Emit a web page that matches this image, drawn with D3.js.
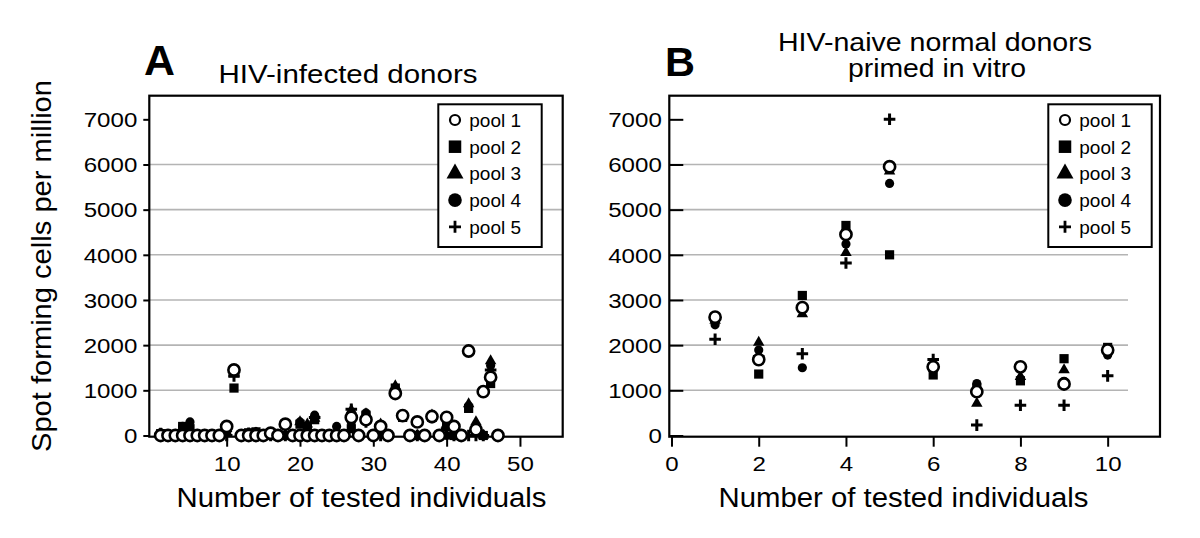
<!DOCTYPE html>
<html><head><meta charset="utf-8">
<script src="https://cdn.jsdelivr.net/npm/d3@7"></script>
<style>
body{margin:0;background:#fff}
svg{display:block}
text{font-family:"Liberation Sans",Arial,Helvetica,sans-serif;fill:#000}
</style>
</head><body>
<svg id="c" width="1200" height="538"></svg>
<script>
// ---------------- data ----------------
const yTicks = [0,1000,2000,3000,4000,5000,6000,7000];
const gridVals = [1000,2000,3000,4000,5000,6000];
const xTicksA = [10,20,30,40,50];
const xTicksB = [0,2,4,6,8,10];
const poolNames = ["pool 1","pool 2","pool 3","pool 4","pool 5"];
const titleA = "HIV-infected donors";
const titleB = ["HIV-naive normal donors","primed in vitro"];
const yTitle = "Spot forming cells per million";
const xTitle = "Number of tested individuals";

// Panel A: HIV-infected donors (individual number -> spot forming cells per million)
const idsA = [1,2,3,4,5,6,7,8,9,10,11,12,13,14,15,16,17,18,19,20,21,22,23,24,25,26,27,28,29,30,31,32,33,34,35,36,37,38,39,40,41,42,43,44,45,46,47];
const a1 = [0,0,0,0,0,0,0,0,0,200,1450,0,0,0,0,50,0,250,0,0,0,0,0,0,0,0,400,0,350,0,200,0,930,440,0,300,0,420,0,400,200,0,1870,130,970,1290,0];
const a2 = [40,0,0,200,150,0,0,0,0,100,1050,0,60,80,0,0,0,0,0,250,200,350,0,0,0,0,150,0,450,0,100,0,1050,400,0,0,0,400,0,200,0,0,600,100,0,1150,0];
const a3 = [0,0,0,150,100,0,0,0,0,150,1350,0,0,50,0,0,0,0,0,300,250,380,0,0,100,0,560,0,480,0,250,0,1100,420,0,0,0,450,0,250,0,0,700,300,0,1650,0];
const a4 = [60,0,0,200,300,0,0,0,0,200,1400,0,0,0,0,0,0,0,0,300,150,450,0,0,200,0,300,0,500,0,100,0,1000,450,0,0,0,430,0,0,0,0,650,100,0,1550,0];
const a5 = [40,0,0,0,0,0,0,0,0,0,1320,0,50,60,0,0,0,0,0,0,0,400,0,0,0,0,580,0,300,0,0,0,1000,450,0,0,0,400,0,150,0,0,0,0,0,1450,0];

// Panel B: HIV-naive normal donors primed in vitro
const idsB = [1,2,3,4,5,6,7,8,9,10];
const b1 = [2620,1680,2830,4450,5950,1520,970,1520,1140,1890];
const b2 = [2600,1360,3100,4650,4000,1340,1050,1210,1700,1950];
const b3 = [2550,2060,2690,4050,5850,1600,710,1300,1450,1900];
const b4 = [2450,1890,1500,4240,5580,1480,1150,1250,1200,1780];
const b5 = [2130,1750,1810,3820,7000,1680,230,670,670,1320];

// ---------------- drawing ----------------
const svg = d3.select("#c");
svg.append("rect").attr("width",1200).attr("height",538).attr("fill","#fff");

const yS = d3.scaleLinear().domain([-27, 7523]).range([436.7, 95.7]);
const xA = d3.scaleLinear().domain([-0.55, 55.83]).range([149.3, 562.7]);
const xB = d3.scaleLinear().domain([-0.05, 11.2]).range([669.3, 1160]);

function marker(g, type, big){
  const k = big ? 1 : 0;
  if(type===0){
    g.append("circle").attr("r", big?5:5.6).attr("fill","#fff").attr("stroke","#000").attr("stroke-width", big?2.2:2.6);
  } else if(type===1){
    const s = big?12.5:9.2;
    g.append("rect").attr("x",-s/2).attr("y",-s/2).attr("width",s).attr("height",s).attr("fill","#000");
  } else if(type===2){
    const w = big?17:11.5, h = big?15:10;
    g.append("path").attr("d",`M0,${-h*2/3}L${w/2},${h/3}L${-w/2},${h/3}Z`).attr("fill","#000");
  } else if(type===3){
    g.append("circle").attr("r", big?6.8:4.6).attr("fill","#000");
  } else {
    const a = big?6:5.8;
    g.append("path").attr("d",`M${-a},0H${a}M0,${-a}V${a}`).attr("stroke","#000").attr("stroke-width",big?2.8:3).attr("fill","none");
  }
}

function digitsLen(s){ return String(s).length*13.4; }

function panel(xS, ids, series, opts){
  const g = svg.append("g");
  const x0 = xS.range()[0], x1 = xS.range()[1];
  const yb = yS.range()[0], yt = yS.range()[1];
  // gridlines
  g.append("g").selectAll("line").data(gridVals).join("line")
    .attr("x1", x0).attr("x2", opts.gridEnd)
    .attr("y1", d=>yS(d)).attr("y2", d=>yS(d))
    .attr("stroke","#b4b4b4").attr("stroke-width",1.6);
  // y axis
  const ya = d3.axisLeft(yS).tickValues(yTicks).tickFormat(d3.format("d"))
    .tickSizeInner(opts.yTickIn ? -14 : 6).tickSizeOuter(0).tickPadding(opts.yTickIn ? 7.5 : 6);
  const yg = g.append("g").attr("transform",`translate(${x0},0)`).call(ya);
  yg.select(".domain").remove();
  yg.selectAll(".tick line").attr("stroke","#000").attr("stroke-width",2);
  yg.selectAll(".tick text").style("font-size","20px").attr("dy","0.36em")
    .attr("textLength", d=>digitsLen(d)).attr("lengthAdjust","spacingAndGlyphs");
  // x axis
  const xa = d3.axisBottom(xS).tickValues(opts.xTicks).tickFormat(d3.format("d"))
    .tickSizeInner(10).tickSizeOuter(0);
  const xg = g.append("g").attr("transform",`translate(0,${yb})`).call(xa);
  xg.select(".domain").remove();
  xg.selectAll(".tick line").attr("stroke","#000").attr("stroke-width",2);
  xg.selectAll(".tick text").style("font-size","20.5px").attr("y",34).attr("dy",0)
    .attr("textLength", d=>digitsLen(d)).attr("lengthAdjust","spacingAndGlyphs");
  // box
  g.append("rect").attr("x",x0).attr("y",yt).attr("width",x1-x0).attr("height",yb-yt)
    .attr("fill","none").attr("stroke","#000").attr("stroke-width",2.2);
  // points: plus, dot, triangle, square, then circle on top
  [4,3,2,1,0].forEach(p=>{
    const pts = ids.map((id,i)=>({x:id, y:series[p][i]}));
    g.append("g").selectAll("g").data(pts).join("g")
      .attr("transform", d=>`translate(${xS(d.x)},${yS(d.y)})`)
      .each(function(){ marker(d3.select(this), p, false); });
  });
  // legend
  const lx = opts.legX, ly = 104.3;
  const lg = g.append("g");
  lg.append("rect").attr("x",lx).attr("y",ly).attr("width",103.4).attr("height",142.7)
    .attr("fill","#fff").attr("stroke","#000").attr("stroke-width",2);
  poolNames.forEach((nm,i)=>{
    const cy = 120 + i*26.7;
    const mg = lg.append("g").attr("transform",`translate(${lx+16.7},${cy})`);
    marker(mg, i, true);
    lg.append("text").attr("x", lx+31).attr("y", cy+6.8).style("font-size","19px").text(nm);
  });
  // x title
  g.append("text").attr("x", opts.xTitleX).attr("y",506.5).attr("text-anchor","middle")
    .style("font-size","27px").attr("textLength",370).attr("lengthAdjust","spacingAndGlyphs").text(xTitle);
  return g;
}

panel(xA, idsA, [a1,a2,a3,a4,a5], {gridEnd:562.7, yTickIn:false, xTicks:xTicksA, legX:438.3, xTitleX:361.5});
panel(xB, idsB, [b1,b2,b3,b4,b5], {gridEnd:1128, yTickIn:true, xTicks:xTicksB, legX:1048.3, xTitleX:903.5});

// y title (shared, left)
svg.append("text").attr("transform","translate(51,266) rotate(-90)").attr("text-anchor","middle")
  .style("font-size","28px").attr("textLength",372).attr("lengthAdjust","spacingAndGlyphs").text(yTitle);

// panel letters and titles
svg.append("text").attr("x",144).attr("y",75).style("font-size","42px").style("font-weight","bold")
  .attr("textLength",31).attr("lengthAdjust","spacingAndGlyphs").text("A");
svg.append("text").attr("x",665).attr("y",76).style("font-size","40px").style("font-weight","bold")
  .attr("textLength",30).attr("lengthAdjust","spacingAndGlyphs").text("B");
svg.append("text").attr("x",348).attr("y",83.3).attr("text-anchor","middle").style("font-size","25.5px")
  .attr("textLength",259).attr("lengthAdjust","spacingAndGlyphs").text(titleA);
svg.append("text").attr("x",935).attr("y",51).attr("text-anchor","middle").style("font-size","25px")
  .attr("textLength",314).attr("lengthAdjust","spacingAndGlyphs").text(titleB[0]);
svg.append("text").attr("x",937).attr("y",77).attr("text-anchor","middle").style("font-size","25px")
  .attr("textLength",178).attr("lengthAdjust","spacingAndGlyphs").text(titleB[1]);
</script>
</body></html>
